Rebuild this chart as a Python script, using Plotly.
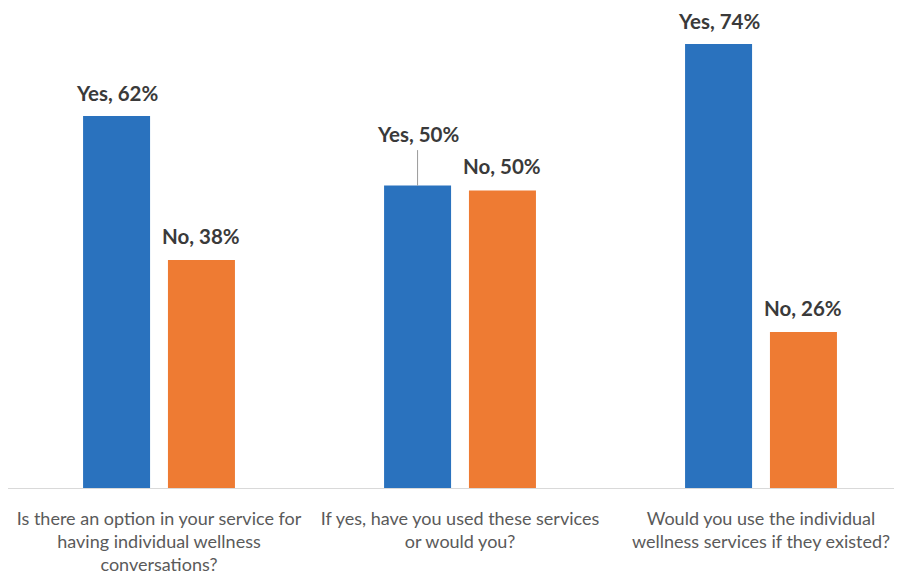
import plotly.graph_objects as go

categories = [
    "Is there an option in your service for<br>having individual wellness<br>conversations?",
    "If yes, have you used these services<br>or would you?",
    "Would you use the individual<br>wellness services if they existed?",
]
yes_values = [62, 50.4, 74]
no_values = [38, 49.6, 26]
yes_labels = ["Yes, 62%", "Yes, 50%", "Yes, 74%"]
no_labels = ["No, 38%", "No, 50%", "No, 26%"]

BLUE = "#2A72BE"
ORANGE = "#EE7B33"
LABEL_COLOR = "#3A3A3A"
TICK_COLOR = "#5A5A5A"

x_pos = list(range(len(categories)))
bar_w = 0.2226
half_gap = 0.141

fig = go.Figure()
fig.add_trace(go.Bar(x=x_pos, y=yes_values, width=bar_w, offset=-half_gap - bar_w / 2,
                     marker=dict(color=BLUE, line=dict(width=0)), name="Yes"))
fig.add_trace(go.Bar(x=x_pos, y=no_values, width=bar_w, offset=half_gap - bar_w / 2,
                     marker=dict(color=ORANGE, line=dict(width=0)), name="No"))

label_font = dict(family="Lato", size=20.5, color=LABEL_COLOR, weight="bold")
for i in x_pos:
    xb = i - half_gap
    xo = i + half_gap
    if i == 1:
        fig.add_annotation(x=xb, y=yes_values[i], text=yes_labels[i], showarrow=True,
                           arrowhead=0, arrowwidth=1, arrowcolor="#9A9A9A", ax=0, ay=-52,
                           standoff=0, font=label_font, borderpad=4)
    else:
        fig.add_annotation(x=xb, y=yes_values[i], text=yes_labels[i], showarrow=False,
                           yanchor="bottom", yshift=9, font=label_font)
    fig.add_annotation(x=xo, y=no_values[i], text=no_labels[i], showarrow=False,
                       yanchor="bottom", yshift=10, font=label_font)

fig.update_layout(
    width=902, height=576,
    margin=dict(l=0, r=0, t=0, b=96, autoexpand=False),
    paper_bgcolor="white", plot_bgcolor="white",
    showlegend=False,
    barmode="overlay",
)
fig.update_xaxes(
    range=[-0.5017, 2.4950],
    tickmode="array", tickvals=x_pos, ticktext=categories,
    showline=True, linecolor="#D9D9D9", linewidth=1,
    showgrid=False, zeroline=False,
    ticks="outside", ticklen=14, tickcolor="rgba(0,0,0,0)",
    tickfont=dict(family="Lato", size=18, color=TICK_COLOR),
    tickangle=0, automargin=False,
)
fig.update_yaxes(range=[0, 80], visible=False, showgrid=False, zeroline=False)

fig.write_html("out.html")
